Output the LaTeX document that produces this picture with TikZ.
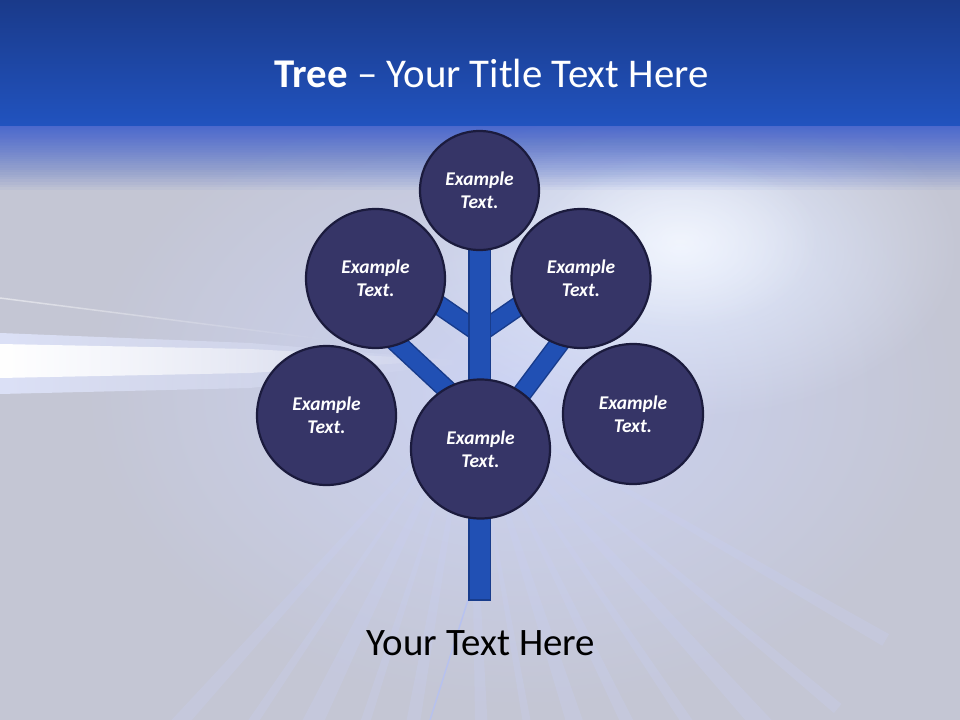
\documentclass[tikz,border=0pt]{standalone}
\usepackage{fontspec}
\setmainfont{Carlito}
\usetikzlibrary{fadings}
\definecolor{bandtop}{HTML}{1A3A8A}
\definecolor{bandbot}{HTML}{2153BF}
\definecolor{bgbase}{HTML}{C4C6D4}
\definecolor{transtop}{HTML}{3F60CC}
\definecolor{glowblue}{HTML}{CDD4F4}
\definecolor{glowlight}{HTML}{E4ECFD}
\definecolor{raycol}{HTML}{C8CFF4}
\definecolor{raylight}{HTML}{B4C0F4}
\definecolor{circfill}{HTML}{363567}
\definecolor{circborder}{HTML}{1B1B3D}
\definecolor{limbfill}{HTML}{2150B4}
\definecolor{limbborder}{HTML}{183C8C}
\tikzfading[name=streakfade, left color=transparent!0, right color=transparent!100]
\tikzfading[name=softglow, inner color=transparent!0, outer color=transparent!100]
\tikzset{
  leaf/.style={circle, draw=circborder, line width=2.2bp, fill=circfill, text=white,
    font=\fontsize{19.5}{23}\selectfont\bfseries\itshape, align=center, inner sep=0pt},
  limb/.style={draw=limbborder, line width=1.5bp, double=limbfill, double distance=17bp},
  trunkline/.style={draw=limbborder, line width=1.5bp, double=limbfill, double distance=20bp, line cap=rect},
  ray/.style={raycol, opacity=0.28},
}
\begin{document}
\begin{tikzpicture}[x=1bp,y=-1bp]
\useasboundingbox (0,0) rectangle (960,720);
% background
\fill[bgbase] (0,0) rectangle (960,720);
\fill[glowblue, path fading=softglow] (520,390) ellipse [x radius=440, y radius=320];
% rays
\foreach \a/\w in {100/1.2,108/0.8,116/1.6,124/0.7,64/1.0,72/1.4,80/0.7,88/1.1,56/0.8,48/1.3,40/0.7,132/1.0,30/0.8}{
  \fill[ray] (470,400) -- +({\a-\w}:480) -- +({\a+\w}:480) -- cycle;
}
\draw[raylight, opacity=0.8, line width=1.5bp] (468,600) -- (430,720);
% upper-right glow
\fill[glowlight, path fading=softglow] (680,250) ellipse [x radius=280, y radius=170];
\fill[white, opacity=0.5, path fading=softglow] (680,240) ellipse [x radius=140, y radius=90];
% blue fringe under the band
\foreach \k in {1,...,48}{
  \fill[transtop, opacity=0.046] (0,124) rectangle (960,{124+66*(\k/48)*(\k/48)});
}
% left streak
\fill[glowblue!70!white, path fading=streakfade] (0,333) -- (250,343) -- (480,362) -- (250,388) -- (0,394) -- cycle;
\fill[white, path fading=streakfade] (0,344) -- (250,349) -- (450,360) -- (250,373) -- (0,378) -- cycle;
\draw[white, opacity=0.5, line width=1.5bp, path fading=streakfade] (0,298) -- (330,340);
% title band
\shade[top color=bandtop, bottom color=bandbot] (0,0) rectangle (960,126);
% title
\node[anchor=base, text=white, font=\fontsize{41}{48}\selectfont, inner sep=0pt] (title) at (491.5,88) {\textbf{Tree} – Your Title Text Here};
% tree
\coordinate (j1) at (479.5,333);
\coordinate (j2) at (479.5,420);
\coordinate (j3) at (479.5,450);
\coordinate (kul) at (420,292);
\coordinate (kur) at (539,292);
\coordinate (kll) at (385,332);
\coordinate (klr) at (580,316);
\coordinate (base) at (479.5,589);
\coordinate (ttop) at (479.5,200);
\draw[limb] (j1) -- (kul);
\draw[limb] (j1) -- (kur);
\draw[limb] (j2) -- (kll);
\draw[limb] (j3) -- (klr);
\draw[trunkline] (ttop) -- (base);
\node[leaf, minimum size=119bp] (top) at (479.5,190.5) {Example\\Text.};
\node[leaf, minimum size=139bp] (ul) at (375.5,278.5) {Example\\Text.};
\node[leaf, minimum size=139bp] (ur) at (581,278.5) {Example\\Text.};
\node[leaf, minimum size=139bp] (ll) at (326.5,415.5) {Example\\Text.};
\node[leaf, minimum size=140bp] (lr) at (633,414) {Example\\Text.};
\node[leaf, minimum size=139bp] (mid) at (480.5,449) {Example\\Text.};
% bottom text
\node[anchor=base, text=black, font=\fontsize{39}{44}\selectfont, inner sep=0pt] (caption) at (481,655) {Your Text Here};
\end{tikzpicture}
\end{document}
